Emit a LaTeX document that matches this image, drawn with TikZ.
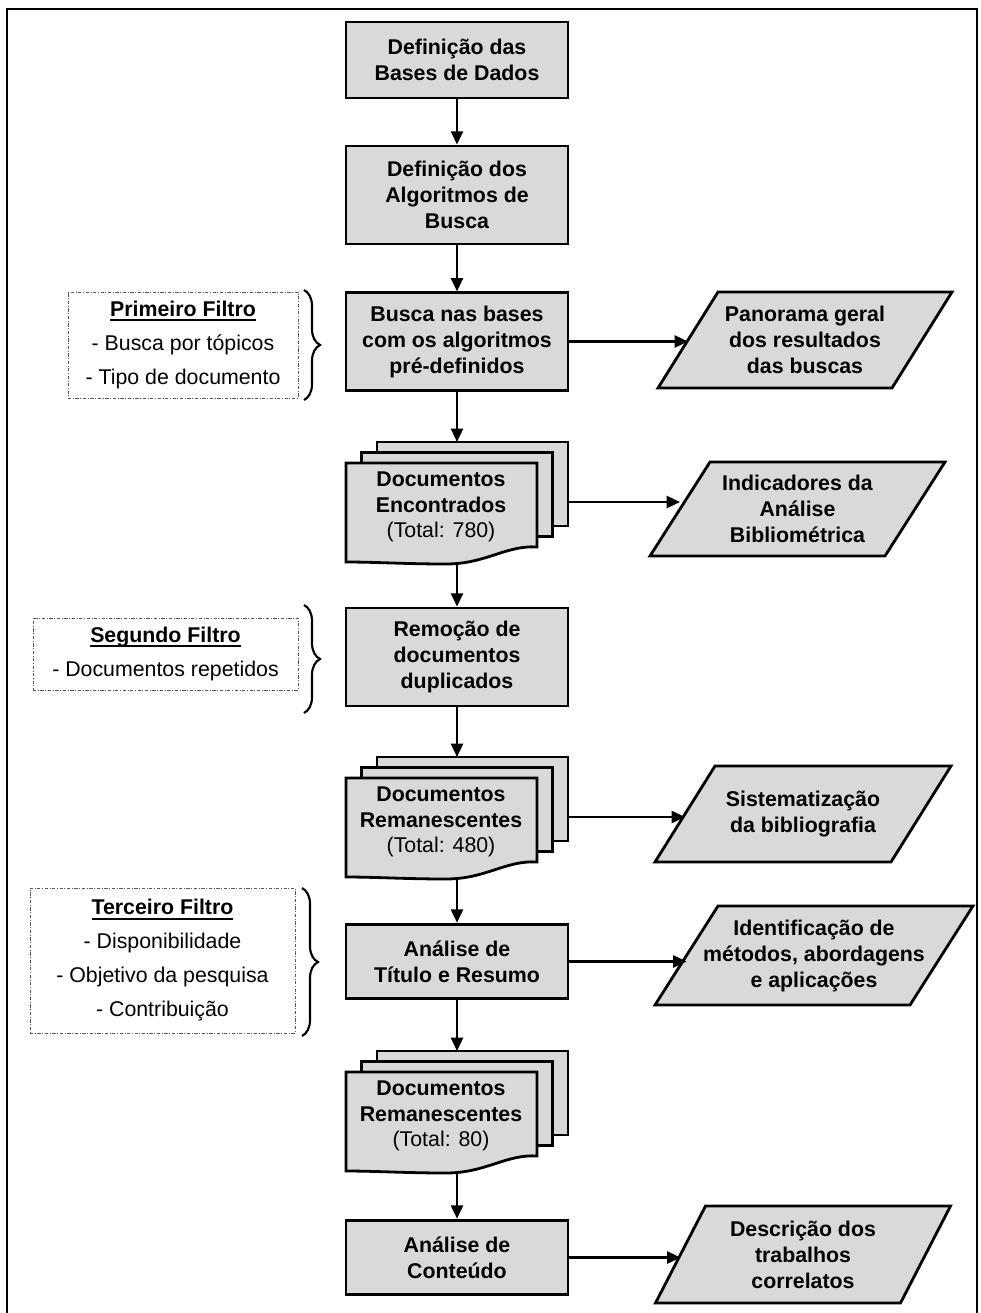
\documentclass[tikz,border=0pt]{standalone}
\usepackage{fontspec}
\setmainfont{Liberation Sans}
\usetikzlibrary{arrows.meta,decorations.pathreplacing}

\definecolor{boxgray}{HTML}{D9D9D9}
\definecolor{dashgray}{HTML}{595959}

% bold heading with a fixed-depth underline
\newsavebox\ulbox
\newcommand\ulbf[1]{\sbox\ulbox{\bfseries #1}\rlap{\rule[-3.4pt]{\wd\ulbox}{1.3pt}}\usebox\ulbox}

\tikzset{
  procbox/.style={draw, line width=2.1pt, fill=boxgray, minimum width=166.5pt,
    align=center, inner sep=0pt, font=\bfseries\fontsize{16}{19.5}\selectfont},
  sheet/.style={draw, line width=2.1pt, fill=boxgray, line join=miter},
  label/.style={align=center, inner sep=0pt, font=\bfseries\fontsize{16}{19.5}\selectfont},
  stacktext/.style={align=center, inner sep=0pt, font=\fontsize{16}{19}\selectfont},
  flow/.style={line width=1.8pt, -{Triangle[length=10pt,width=9pt]}},
  filterbox/.style={draw=dashgray, line width=0.7pt,
    dash pattern=on 2.5pt off 1.2pt on 0.7pt off 1.2pt,
    align=center, inner sep=0pt, font=\fontsize{16}{25.5}\selectfont},
  bracket/.style={decorate, decoration={brace, amplitude=12pt}, line width=1.6pt},
}

% stack of three documents: name, left x of front sheet, top y of front sheet, text
\newcommand\docstack[4]{%
  \draw[sheet] ({#2+31},{#3-21}) rectangle ({#2+222},{#3+63});
  \draw[sheet] ({#2+15.5},{#3-10.5}) rectangle ({#2+206.5},{#3+73.5});
  \draw[sheet] (#2,#3) -- ({#2+191},#3) -- ({#2+191},{#3+84})
     .. controls ({#2+160},{#3+82}) and ({#2+140},{#3+101}) .. ({#2+100},{#3+101})
     .. controls ({#2+60},{#3+101}) and ({#2+30},{#3+99}) .. (#2,{#3+99}) -- cycle;
  \node[stacktext] (#1) at ({#2+95},{#3+44}) {#4};
  \coordinate (#1-in) at ({#2+111},{#3-21});
  \coordinate (#1-out) at ({#2+111},{#3+99});
  \coordinate (#1-side) at ({#2+222},{#3+39});
}

% data parallelogram: name, centre x, centre y, edge length, height, slant, text
\newcommand\ioshape[7]{%
  \draw[sheet] ({#2-#4/2+#6/2},{#3-#5/2}) -- ({#2+#4/2+#6/2},{#3-#5/2})
     -- ({#2+#4/2-#6/2},{#3+#5/2}) -- ({#2-#4/2-#6/2},{#3+#5/2}) -- cycle;
  \node[label] (#1) at (#2,#3) {#7};
  \coordinate (#1-in) at ({#2-#4/2},#3);
}

\begin{document}
\begin{tikzpicture}[x=0.75pt, y=-0.75pt]
\useasboundingbox (0,0) rectangle (981,1313);
\clip (0,0) rectangle (981,1313);

% outer frame
\draw[line width=2.2pt] (7,1330) -- (7,9) -- (977,9) -- (977,1330);

% main process column
\node[procbox, minimum height=57pt]   (b1) at (457,60)     {Definição das\\Bases de Dados};
\node[procbox, minimum height=73.5pt] (b2) at (457,195)    {Definição dos\\Algoritmos de\\Busca};
\node[procbox, minimum height=73pt]   (b3) at (457,341.5)  {Busca nas bases\\com os algoritmos\\pré-definidos};
\docstack{s1}{346}{463}{\textbf{Documentos}\\\textbf{Encontrados}\\(Total: 780)}
\node[procbox, minimum height=73.5pt] (b4) at (457,657)    {Remoção de\\documentos\\duplicados};
\docstack{s2}{346}{778}{\textbf{Documentos}\\\textbf{Remanescentes}\\(Total: 480)}
\node[procbox, minimum height=56pt]   (b5) at (457,961.5)  {Análise de\\Título e Resumo};
\docstack{s3}{346}{1072}{\textbf{Documentos}\\\textbf{Remanescentes}\\(Total: 80)}
\node[procbox, minimum height=56pt]   (b6) at (457,1257.5) {Análise de\\Conteúdo};

% outputs
\ioshape{p1}{805}{340}{234}{96}{60}{Panorama geral\\dos resultados\\das buscas}
\ioshape{p2}{797.5}{509}{235}{94}{60}{Indicadores da\\Análise\\Bibliométrica}
\ioshape{p3}{803}{814}{236}{96}{60}{Sistematização\\da bibliografia}
\ioshape{p4}{814}{955.5}{255}{99}{63}{Identificação de\\métodos, abordagens\\e aplicações}
\ioshape{p5}{803}{1254.5}{245}{97}{50}{Descrição dos\\trabalhos\\correlatos}

% vertical flow
\draw[flow] (b1.south) -- (b2.north);
\draw[flow] (b2.south) -- (b3.north);
\draw[flow] (b3.south) -- (s1-in);
\draw[flow] (s1-out) -- (b4.north);
\draw[flow] (b4.south) -- (s2-in);
\draw[flow] (s2-out) -- (b5.north);
\draw[flow] (b5.south) -- (s3-in);
\draw[flow] (s3-out) -- (b6.north);

% horizontal flow to outputs
\draw[flow] (b3.east) -- (b3.east -| p1-in);
\draw[flow] (s1-side) -- (s1-side -| p2-in);
\draw[flow] (s2-side) -- (s2-side -| p3-in);
\draw[flow] (b5.east) -- (b5.east -| p4-in);
\draw[flow] (b6.east) -- (b6.east -| p5-in);

% filters
\node[filterbox, minimum width=172.5pt, minimum height=79.5pt] (f1) at (183,345)
  {\ulbf{Primeiro Filtro}\\- Busca por tópicos\\- Tipo de documento};
\node[filterbox, minimum width=198.75pt, minimum height=54pt] (f2) at (165.5,654)
  {\ulbf{Segundo Filtro}\\- Documentos repetidos};
\node[filterbox, minimum width=198.75pt, minimum height=108.75pt] (f3) at (162.5,960.5)
  {\ulbf{Terceiro Filtro}\\- Disponibilidade\\- Objetivo da pesquisa\\- Contribuição};

\draw[bracket] (304,290) -- (304,400);
\draw[bracket] (304,605) -- (304,713);
\draw[bracket] (302,888) -- (302,1036);
\end{tikzpicture}
\end{document}
